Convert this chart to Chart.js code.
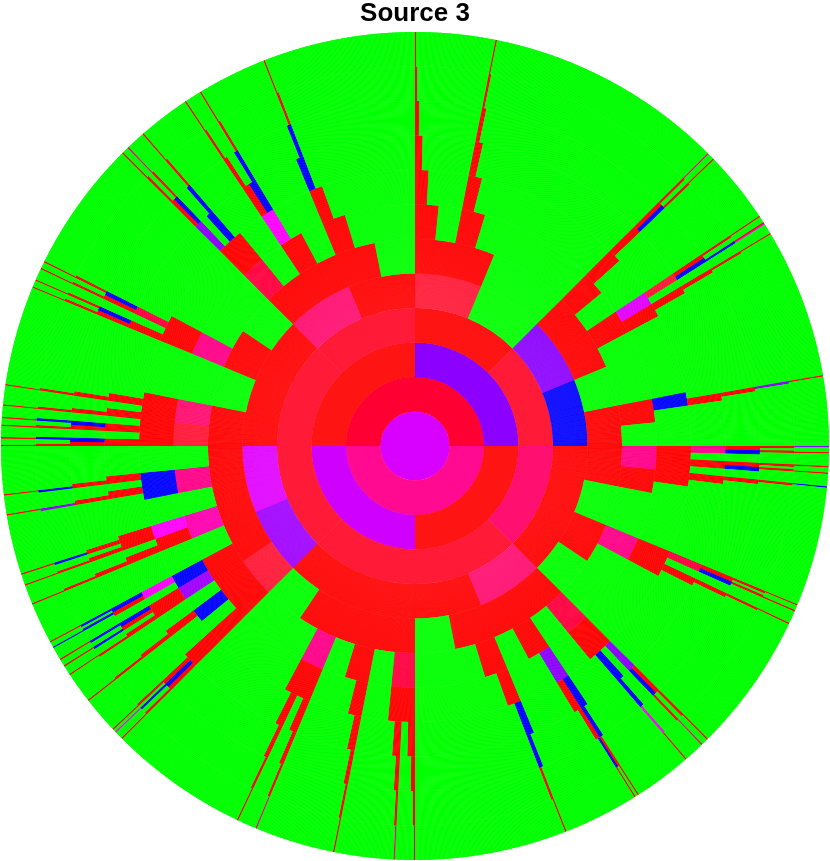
<!DOCTYPE html>
<html>
<head>
<meta charset="utf-8">
<style>html,body{margin:0;padding:0;background:#fff}canvas{display:block}</style>
<script src="https://cdn.jsdelivr.net/npm/chart.js@4"></script>
</head>
<body>
<canvas id="c" width="830" height="861"></canvas>
<script>
const titleText = 'Source 3';
// outermost-ring cells (of 2048, clockwise from 12 o'clock) that are not green
const leafCells = [0,64,256,262,320,326,327,336,456,512,517,528,533,544,640,645,656,768,774,791,838,841,902,
  1024,1040,1088,1152,1168,1280,1287,1290,1320,1345,1353,1359,1370,1375,1408,1424,1433,1481,1497,
  1536,1542,1552,1558,1568,1584,1664,1670,1680,1686,1792,1798,1814,1856,1870,1926];
// level codes of cells that are neither green nor plain red: [cell, code]
const ring1Levels = [[0,'c']];
const ring2Levels = [[0,'a'],[1,'f'],[2,'f'],[3,'a']];
const ring3Levels = [[0,'v'],[1,'e'],[2,'d'],[3,'e']];
const ring4Levels = [[0,'e'],[1,'s'],[2,'p'],[3,'s'],[4,'s'],[5,'s'],[6,'s'],[7,'s']];
const ring5Levels = [[0,'s'],[2,'v'],[3,'b'],[6,'p'],[10,'u'],[11,'m'],[14,'p']];
const ring6Levels = [[20,'s']];
const ring7Levels = [[16,'h'],[20,'h'],[24,'t'],[32,'t'],[36,'h'],[44,'k'],[46,'h'],[48,'s'],[49,'p'],[52,'h'],[56,'t']];
const ring8Levels = [[20,'m'],[28,'b'],[52,'v'],[82,'b'],[84,'u'],[85,'b'],[89,'n'],[92,'b'],[93,'b'],[116,'n']];
const ring9Levels = [[40,'s'],[64,'h'],[80,'t'],[96,'v'],[98,'b'],[104,'b'],[112,'b'],[171,'n'],[210,'t'],[224,'v'],[226,'b'],[233,'b'],[240,'b']];
const ring10Levels = [[65,'b'],[81,'b'],[129,'b'],[133,'b'],[161,'b'],[193,'b'],[197,'b'],[209,'b'],[225,'b'],[321,'b'],[339,'b'],[343,'b'],[385,'b'],[389,'b'],[417,'b'],[421,'b'],[449,'b'],[453,'b'],[467,'b'],[481,'b']];
const ring11Levels = [[163,'b'],[228,'v'],[395,'n'],[420,'b'],[643,'b'],[676,'b'],[679,'b'],[685,'b'],[687,'b'],[716,'b'],[740,'v'],[748,'b'],[771,'b'],[779,'b']];
const ring12Levels = [[256,'h'],[327,'n'],[512,'v'],[544,'b'],[774,'h'],[1040,'h'],[1152,'h'],[1287,'n'],[1370,'b'],[1798,'h']];
const ringLevels = [ring1Levels,ring2Levels,ring3Levels,ring4Levels,ring5Levels,ring6Levels,ring7Levels,ring8Levels,ring9Levels,ring10Levels,ring11Levels,ring12Levels];

const palette = {g:'#00ff00',r:'#ff0000',e:'#ff1414',s:'#ff1a38',t:'#ff0040',p:'#ff1070',h:'#ff0088',k:'#ff00b0',
  a:'#ff0033',f:'#ff0a90',v:'#8c00ff',u:'#a000ff',d:'#d000ff',m:'#e000ff',n:'#ff00ff',c:'#d800ff',b:'#0000ff'};

function ringDataset(level){ // level 1..12
  const cellsInRing = Math.pow(2, level-1);
  const cells = level===2 ? 4 : cellsInRing;
  const slices = level>=5 ? 2048 : cells;
  const perCell = slices/cells;
  const codes = new Array(cells).fill(level<=4 ? 'r' : 'g');
  leafCells.forEach(function(leaf){
    if(level>=3) codes[Math.floor(leaf/Math.pow(2,12-level))]='r';
  });
  ringLevels[level-1].forEach(function(e){codes[e[0]]=e[1];});
  const colours=[];
  const values=[];
  for(let i=0;i<slices;i++){colours.push(palette[codes[Math.floor(i/perCell)]]);values.push(1);}
  return {data:values,backgroundColor:colours,borderWidth:0,hoverOffset:0};
}
const datasets=[];
for(let lv=12;lv>=1;lv--)datasets.push(ringDataset(lv));

// a second pass over each ring closes most of the hairline seams between slices
const secondPass = {id:'secondPass',afterDatasetDraw:function(chart,args){args.meta.controller.draw();}};

new Chart(document.getElementById('c').getContext('2d'),{
  type:'doughnut',
  data:{datasets:datasets},
  plugins:[secondPass],
  options:{
    responsive:false,animation:false,events:[],cutout:0,
    layout:{padding:{top:0,bottom:1,left:0,right:0}},
    plugins:{
      legend:{display:false},tooltip:{enabled:false},
      title:{display:true,text:titleText,color:'#000',align:'center',
        font:{family:'"Liberation Sans",Arial,sans-serif',weight:'bold',size:26,lineHeight:1},
        padding:{top:1,bottom:5}}
    }
  }
});
</script>
</body>
</html>
